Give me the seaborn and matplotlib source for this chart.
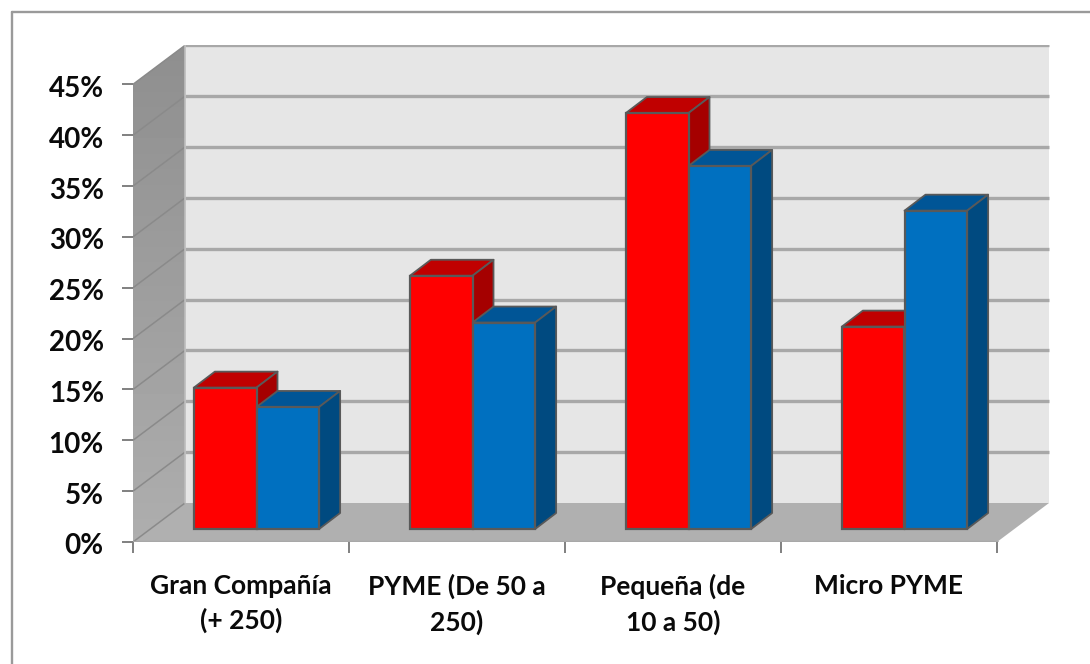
import numpy as np
import pandas as pd
import seaborn as sns
import matplotlib
matplotlib.use("Agg")
import matplotlib.pyplot as plt
from matplotlib.lines import Line2D
from matplotlib.patches import Polygon, Rectangle
from matplotlib.transforms import ScaledTranslation

# chart values
categories = ["Gran Compañía\n(+ 250)", "PYME (De 50 a\n250)", "Pequeña (de\n10 a 50)", "Micro PYME"]
serie_roja = [13.9, 24.9, 40.9, 19.9]
serie_azul = [12, 20.3, 35.7, 31.3]
y_ticks = [0, 5, 10, 15, 20, 25, 30, 35, 40, 45]

FRONT = {"Serie 1": "#ff0000", "Serie 2": "#0070c0"}
TOP = {"Serie 1": "#c00000", "Serie 2": "#005596"}
SIDE = {"Serie 1": "#a50000", "Serie 2": "#004a80"}
EDGE = "#595959"
GRID = "#a8a8a8"

# pixel scale of the fake 3d box
W, H = 1090, 664
DPI = 100
PX_X = 216.0    # pixels per category
PX_Y = 10.17    # pixels per percent
WALL_X = 52 / PX_X
WALL_Y = 39 / PX_Y
BAR_X = 15.5 / PX_X
BAR_Y = 13 / PX_Y
DEPTH_X = 21 / PX_X
DEPTH_Y = 16 / PX_Y

sns.set_theme(style="white")
plt.rcParams["font.family"] = ["Lato", "DejaVu Sans"]

df = pd.DataFrame({
    "categoria": categories * 2,
    "serie": ["Serie 1"] * 4 + ["Serie 2"] * 4,
    "valor": serie_roja + serie_azul,
})

fig = plt.figure(figsize=(W / DPI, H / DPI), dpi=DPI)
fig.patch.set_facecolor("white")

# the picture only keeps the top and left edge of the chart frame
fig.add_artist(Line2D([11.5 / W, 1], [1 - 11.5 / H, 1 - 11.5 / H], color="#9a9a9a", lw=1.7))
fig.add_artist(Line2D([11.5 / W, 11.5 / W], [0, 1 - 11.5 / H], color="#9a9a9a", lw=1.7))

ax = fig.add_axes([133 / W, 1 - 542 / H, 918 / W, 497 / H])
ax.patch.set_visible(False)

sns.barplot(data=df, x="categoria", y="valor", hue="serie", palette=FRONT, width=0.58, gap=0,
            dodge=True, legend=False, saturation=1, edgecolor=EDGE, linewidth=1.6, ax=ax, zorder=5)

x0, x1 = -0.5, 3.5

# back wall, side wall (with a vertical gradient) and floor
ax.add_patch(Rectangle((x0 + WALL_X, WALL_Y), x1 - x0, 45, facecolor="#e6e6e6", edgecolor="none", zorder=0))
side_wall = Polygon([(x0, 0), (x0 + WALL_X, WALL_Y), (x0 + WALL_X, 45 + WALL_Y), (x0, 45)],
                    facecolor="none", edgecolor="none", zorder=0)
ax.add_patch(side_wall)
grad = ax.imshow(np.linspace(0.56, 0.68, 64).reshape(-1, 1), cmap="gray", vmin=0, vmax=1, aspect="auto",
                 extent=(x0, x0 + WALL_X, 0, 45 + WALL_Y), origin="upper", zorder=0.5)
grad.set_clip_path(side_wall)
ax.set_xlim(x0, x0 + 918 / PX_X)
ax.set_ylim(0, 497 / PX_Y)
ax.add_patch(Polygon([(x0, 0), (x0 + WALL_X, WALL_Y), (x1 + WALL_X, WALL_Y), (x1, 0)],
                     facecolor="#b0b0b0", edgecolor="none", zorder=1))

# gridlines run over both walls
for v in y_ticks:
    ax.plot([x0, x0 + WALL_X], [v, v + WALL_Y], color="#8a8a8a", lw=1.1, zorder=2, solid_capstyle="butt")
    if v > 0:
        ax.plot([x0 + WALL_X, x1 + WALL_X], [v + WALL_Y, v + WALL_Y], color=GRID, lw=2.4, zorder=2,
                solid_capstyle="butt")
ax.plot([x0, x1], [0, 0], color=GRID, lw=2.4, zorder=2.5)
ax.plot([x0 + WALL_X, x0 + WALL_X], [WALL_Y, 45 + WALL_Y], color="#bdbdbd", lw=1.2, zorder=2)

# move bars to their plane and add top and side faces
for serie, cont in zip(["Serie 1", "Serie 2"], ax.containers):
    for p in cont:
        left = p.get_x() + BAR_X
        right = left + p.get_width()
        low = BAR_Y
        high = BAR_Y + p.get_height()
        p.set_x(left)
        p.set_y(low)
        z = 3 if serie == "Serie 1" else 4
        ax.add_patch(Polygon([(left, high), (right, high), (right + DEPTH_X, high + DEPTH_Y),
                              (left + DEPTH_X, high + DEPTH_Y)], facecolor=TOP[serie], edgecolor=EDGE,
                             linewidth=1.3, joinstyle="round", zorder=z))
        ax.add_patch(Polygon([(right, low), (right + DEPTH_X, low + DEPTH_Y), (right + DEPTH_X, high + DEPTH_Y),
                              (right, high)], facecolor=SIDE[serie], edgecolor=EDGE, linewidth=1.3,
                             joinstyle="round", zorder=z))

# axes decoration
sns.despine(ax=ax, left=True, bottom=True, top=True, right=True)
ax.set_xlabel("")
ax.set_ylabel("")
ax.set_yticks(y_ticks)
ax.set_yticklabels(["{}%".format(v) for v in y_ticks], fontsize=20, fontweight="bold", color="#0a0a0a",
                   va="center_baseline")
ax.set_xticks(range(4))
ax.set_xticklabels(categories, fontsize=19, fontweight="bold", color="#0a0a0a", linespacing=1.47)
ax.set_xticks(np.arange(x0, x1 + 0.5), minor=True)
ax.tick_params(axis="y", left=True, length=8, width=1.4, color="#808080", pad=13)
ax.tick_params(axis="x", which="major", bottom=False, length=0, pad=23)
ax.tick_params(axis="x", which="minor", bottom=True, length=8, width=1.4, color="#808080")

# tick labels sit a little under their tick in the picture
for lab in ax.get_yticklabels():
    lab.set_transform(lab.get_transform() + ScaledTranslation(0, -2 / DPI, fig.dpi_scale_trans))

plt.savefig("out.png", dpi=DPI)
